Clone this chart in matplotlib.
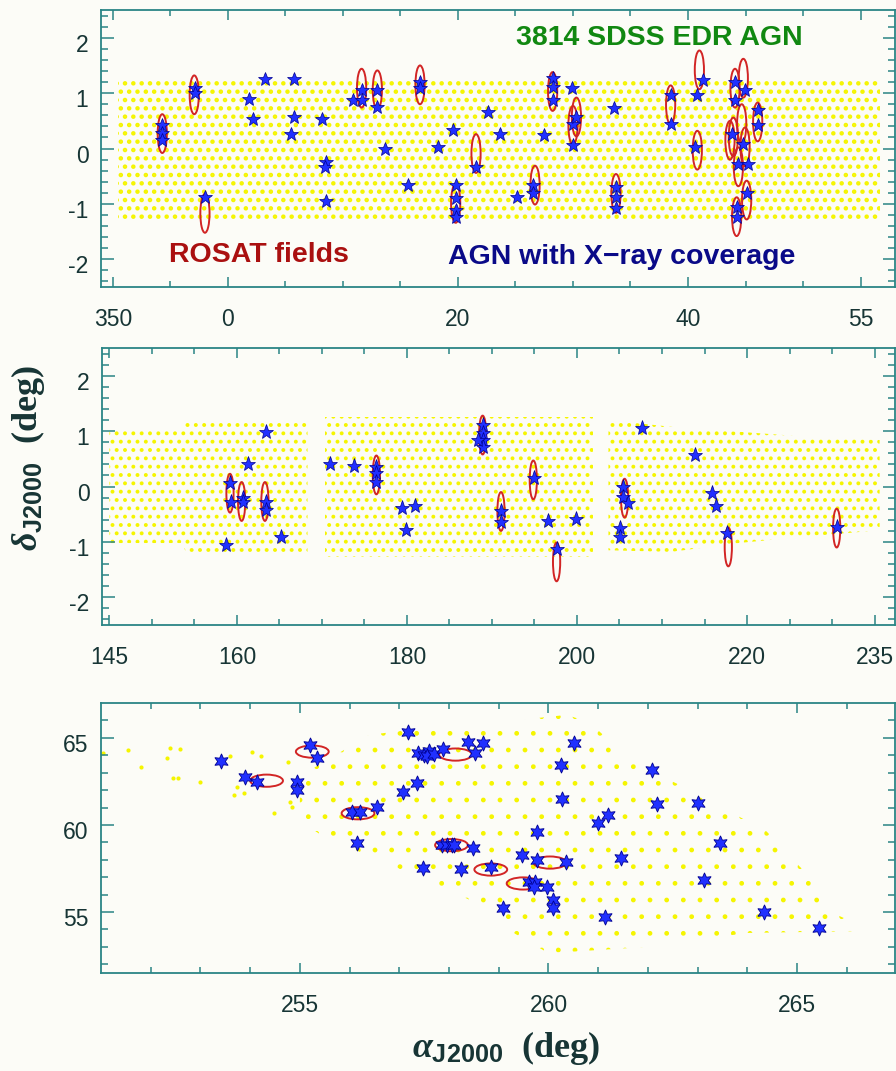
import matplotlib
matplotlib.use("Agg")
import matplotlib.pyplot as plt
from matplotlib.patches import Ellipse, Polygon
from matplotlib.transforms import ScaledTranslation

# ---- equatorial strip, RA 350..57 (negative = wrapped through 0) ----
strip1_ra = [-9.6, 56.7, 56.7, -9.6]
strip1_dec = [-1.27, -1.27, 1.27, 1.27]

rosat1_ra = [-5.71, -2.93, -2.0, 11.62, 12.99, 16.70, 21.57, 19.8, 28.23, 30.3,
             30.0, 26.70, 33.74, 38.49, 40.99, 40.81, 44.09, 44.81, 43.94, 44.67,
             44.38, 44.96, 45.1, 44.23, 46.06, 43.65]
rosat1_dec = [0.27, 0.97, -1.17, 1.09, 1.06, 1.15, -0.09, -0.99, 1.03, 0.57,
              0.42, -0.66, -0.81, 0.79, 1.42, -0.03, 1.09, 1.27, 0.21, 0.45,
              -0.33, 0.03, -0.93, -1.23, 0.48, 0.15]

agn1_ra = [-5.7, -5.7, -5.7, -2.87, -2.87, -2.0, 1.86, 3.22, 5.74, 2.14,
           5.74, 5.48, 8.2, 8.52, 8.43, 8.49, 10.9, 11.62, 11.62, 13.0,
           13.0, 13.65, 16.7, 16.7, 15.68, 18.29, 19.54, 19.8, 19.8, 19.8,
           19.8, 22.6, 21.57, 23.65, 25.1, 26.55, 26.55, 27.5, 28.23, 28.23,
           28.23, 29.9, 30.03, 30.03, 30.3, 33.6, 33.74, 33.74, 33.74, 38.49,
           38.49, 40.75, 41.28, 40.6, 44.09, 44.09, 44.96, 43.8, 44.8, 44.38,
           45.25, 45.1, 44.23, 44.23, 46.06, 46.06]
agn1_dec = [0.42, 0.28, 0.15, 1.09, 1.00, -0.87, 0.89, 1.25, 1.26, 0.53,
            0.57, 0.26, 0.53, -0.24, -0.33, -0.95, 0.88, 1.06, 0.88, 1.06,
            0.75, 0.0, 1.21, 1.09, -0.66, 0.03, 0.33, -0.66, -0.90, -1.11,
            -1.23, 0.66, -0.33, 0.26, -0.87, -0.66, -0.81, 0.24, 1.27, 1.12,
            0.88, 1.09, 0.45, 0.06, 0.57, 0.73, -0.69, -0.87, -1.08, 0.97,
            0.45, 0.97, 1.24, 0.03, 1.21, 0.88, 1.06, 0.27, 0.09, -0.27,
            -0.27, -0.81, -1.05, -1.23, 0.69, 0.42]

# ---- equatorial strip, RA 145..237 ----
strip2a_ra = [145.0, 153.5, 154.0, 168.3, 168.3, 154.0, 153.5, 145.0]
strip2a_dec = [-1.02, -1.02, -1.18, -1.18, 1.15, 1.15, 1.02, 1.02]
strip2b_ra = [170.4, 201.9, 201.9, 170.4]
strip2b_dec = [-1.27, -1.27, 1.26, 1.26]
strip2c_ra = [203.7, 211.0, 219.0, 227.0, 235.6, 235.6, 227.0, 219.0, 211.0, 203.7]
strip2c_dec = [-1.15, -1.18, -1.02, -0.9, -0.79, 0.84, 0.9, 0.99, 1.08, 1.2]

rosat2_ra = [159.18, 160.55, 163.29, 176.4, 188.9, 191.06, 194.86, 197.6,
             205.6, 217.8, 230.55]
rosat2_dec = [-0.12, -0.27, -0.27, 0.21, 0.93, -0.45, 0.12, -1.36,
              -0.21, -1.09, -0.75]

agn2_ra = [159.2, 159.3, 160.7, 160.7, 161.3, 163.4, 163.4, 163.4, 165.2, 158.7,
           170.9, 173.8, 176.4, 176.4, 176.4, 179.4, 180.9, 179.9, 188.9, 188.9,
           188.9, 188.9, 188.4, 191.1, 191.1, 194.9, 196.55, 197.6, 199.85, 205.1,
           205.1, 205.45, 205.45, 206.0, 207.6, 213.9, 215.85, 216.4, 217.7, 230.55]
agn2_dec = [0.06, -0.27, -0.21, -0.27, 0.40, 0.99, -0.27, -0.42, -0.91, -1.06,
            0.40, 0.38, 0.36, 0.24, 0.09, -0.39, -0.36, -0.79, 1.11, 0.96,
            0.84, 0.72, 0.84, -0.45, -0.64, 0.15, -0.62, -1.12, -0.59, -0.75,
            -0.91, 0.0, -0.18, -0.30, 1.05, 0.57, -0.12, -0.36, -0.83, -0.73]

# ---- northern patch, RA 251..267 ----
patch3_ra = [255.0, 256.4, 257.75, 258.08, 259.43, 260.37, 260.84, 261.7, 262.71,
             264.39, 264.92, 265.46, 265.72, 266.3, 266.2, 264.0, 262.0, 260.0,
             259.3, 258.8, 257.8, 256.5, 255.5, 255.0]
patch3_dec = [62.8, 65.17, 65.65, 66.03, 66.03, 66.32, 65.86, 63.56, 62.2,
              59.62, 57.99, 56.45, 54.94, 54.2, 53.9, 53.8, 53.0, 52.64,
              53.8, 55.2, 56.5, 58.1, 59.3, 60.2]
# sparse objects on the western tail of the patch
tail3_ra = [251.04, 251.55, 251.81, 252.38, 252.59, 252.33, 252.45, 252.55, 252.99,
            253.59, 253.73, 253.67, 253.87, 254.03, 254.21, 254.48, 254.76, 254.85,
            254.8]
tail3_dec = [64.14, 64.31, 63.35, 64.41, 64.35, 63.83, 62.68, 62.68, 62.49,
             63.93, 62.2, 61.72, 61.82, 64.21, 63.93, 60.67, 63.64, 61.05,
             61.34]

rosat3_ra = [255.25, 254.33, 256.17, 258.13, 258.05, 258.84, 259.49, 260.03]
rosat3_dec = [64.21, 62.54, 60.67, 64.04, 58.84, 57.44, 56.64, 57.84]

agn3_ra = [253.42, 253.89, 254.13, 255.2, 255.34, 254.95, 254.95, 256.04, 256.21,
           256.56, 256.15, 257.17, 257.38, 257.5, 257.6, 257.55, 257.7, 257.35,
           257.08, 257.87, 258.39, 258.52, 258.69, 257.85, 257.95, 258.05, 258.1,
           258.49, 257.48, 258.25, 258.84, 259.09, 260.52, 260.25, 260.27, 259.77,
           259.46, 259.76, 260.35, 259.61, 259.73, 259.7, 259.97, 260.1, 260.1,
           261.14, 260.99, 261.2, 261.45, 262.09, 262.19, 263.01, 263.46, 263.13,
           264.34, 265.45]
agn3_dec = [63.68, 62.78, 62.49, 64.6, 63.83, 62.49, 62.01, 60.76, 60.76,
            61.05, 58.98, 65.36, 64.14, 64.04, 64.24, 63.94, 64.09, 62.39,
            61.91, 64.34, 64.78, 64.12, 64.69, 58.84, 58.84, 58.84, 58.84,
            58.66, 57.51, 57.45, 57.6, 55.21, 64.73, 63.44, 61.47, 59.61,
            58.27, 57.99, 57.85, 56.74, 56.74, 56.45, 56.45, 55.69, 55.21,
            54.69, 60.13, 60.57, 58.08, 63.16, 61.2, 61.28, 58.94, 56.84,
            55.01, 54.06]

BG = "#fcfcf7"
TEAL = "#2a8585"
INK = "#173535"
YELLOW = "#f5f500"
RED = "#d22525"
STAR_FACE = "#2030ff"
STAR_EDGE = "#000090"

plt.rcParams["axes.unicode_minus"] = False
plt.rcParams["mathtext.fontset"] = "custom"
plt.rcParams["mathtext.it"] = "Liberation Serif:italic:bold"
plt.rcParams["mathtext.bf"] = "Liberation Sans:bold"
plt.rcParams["mathtext.rm"] = "Liberation Sans:bold"

fig = plt.figure(figsize=(8.96, 10.71), dpi=100, facecolor=BG)
ax1 = fig.add_axes([0.1127, 0.7320, 0.8862, 0.2586])
ax2 = fig.add_axes([0.1138, 0.4164, 0.8850, 0.2586])
ax3 = fig.add_axes([0.1127, 0.0915, 0.8862, 0.2521])


def footprint(ax, ra, dec, hatch, dot_lw):
    # survey coverage drawn as a dotted fill
    with plt.rc_context({"hatch.linewidth": dot_lw}):
        p = Polygon(list(zip(ra, dec)), closed=True, facecolor="none",
                    edgecolor=YELLOW, linewidth=0, hatch=hatch, zorder=1)
        ax.add_patch(p)


def fields(ax, ra, dec, w, h):
    for x, y in zip(ra, dec):
        ax.add_patch(Ellipse((x, y), w, h, fill=False, edgecolor=RED,
                             linewidth=1.4, zorder=3))


def style(ax, xlim, ylim, xt, xl, xminor, yt, yminor):
    ax.set_facecolor(BG)
    ax.set_xlim(*xlim)
    ax.set_ylim(*ylim)
    ax.set_xticks(xt, labels=xl)
    ax.set_xticks(xminor, minor=True)
    ax.set_yticks(yt, labels=[str(v) for v in yt])
    ax.set_yticks(yminor, minor=True)
    for s in ax.spines.values():
        s.set_color(TEAL)
        s.set_linewidth(1.3)
    ax.tick_params(which="both", direction="in", top=True, right=True,
                   color=TEAL, width=1.1, labelcolor=INK)
    ax.tick_params(axis="x", which="major", length=7, pad=15)
    ax.tick_params(axis="x", which="minor", length=4)
    ax.tick_params(axis="y", which="major", length=9, pad=9)
    ax.tick_params(axis="y", which="minor", length=5)
    shift = ScaledTranslation(0, -0.05, fig.dpi_scale_trans)
    for lab in ax.get_xticklabels() + ax.get_yticklabels():
        lab.set_family("Liberation Sans")
        lab.set_fontsize(16.5)
    for lab in ax.get_yticklabels():
        lab.set_transform(lab.get_transform() + shift)


# top panel
footprint(ax1, strip1_ra, strip1_dec, "..", 2.0)
fields(ax1, rosat1_ra, rosat1_dec, 0.8, 0.7)
ax1.plot(agn1_ra, agn1_dec, ls="none", marker="*", ms=10.5, mfc=STAR_FACE,
         mec=STAR_EDGE, mew=0.5, zorder=4)
style(ax1, (-11.04, 58.0), (-2.5, 2.5), [-10, 0, 20, 40, 55],
      ["350", "0", "20", "40", "55"], list(range(-10, 56, 5)),
      [-2, -1, 0, 1, 2], [v / 5 for v in range(-12, 13)])
bold = dict(family="Liberation Sans", fontweight="bold", fontsize=20.5,
            transform=ax1.transAxes, ha="center", va="center", zorder=5)
ax1.text(0.703, 0.899, "3814 SDSS EDR AGN", color="#118811", **bold)
ax1.text(0.199, 0.116, "ROSAT fields", color="#aa1010", **bold)
ax1.text(0.656, 0.108, "AGN with X\u2212ray coverage", color="#0a0a88", **bold)

# middle panel
for ra, dec in [(strip2a_ra, strip2a_dec), (strip2b_ra, strip2b_dec),
                (strip2c_ra, strip2c_dec)]:
    footprint(ax2, ra, dec, "..", 1.6)
fields(ax2, rosat2_ra, rosat2_dec, 0.85, 0.7)
ax2.plot(agn2_ra, agn2_dec, ls="none", marker="*", ms=11, mfc=STAR_FACE,
         mec=STAR_EDGE, mew=0.5, zorder=4)
style(ax2, (144.12, 237.4), (-2.5, 2.5), [145, 160, 180, 200, 220, 235],
      ["145", "160", "180", "200", "220", "235"], list(range(145, 236, 5)),
      [-2, -1, 0, 1, 2], [v / 5 for v in range(-12, 13)])

# bottom panel
footprint(ax3, patch3_ra, patch3_dec, ".", 1.0)
ax3.scatter(tail3_ra, tail3_dec, s=9, color=YELLOW, linewidths=0, zorder=1)
fields(ax3, rosat3_ra, rosat3_dec, 0.66, 0.7)
ax3.plot(agn3_ra, agn3_dec, ls="none", marker=(6, 1, 0), ms=11, mfc=STAR_FACE,
         mec=STAR_EDGE, mew=0.6, zorder=4)
style(ax3, (251.0, 266.97), (51.5, 67.0), [255, 260, 265],
      ["255", "260", "265"], list(range(252, 267)),
      [55, 60, 65], list(range(52, 67)))

label = dict(family="Liberation Serif", fontweight="bold", fontsize=26,
             color=INK, ha="center", va="center")
fig.text(0.031, 1 - 458 / 1071, r"$\delta_{\mathbf{J2000}}$  (deg)",
         rotation=90, **label)
fig.text(506 / 896, 1 - 1048 / 1071, r"$\alpha_{\mathbf{J2000}}$  (deg)", **label)

fig.savefig("out.png", dpi=100, facecolor=BG)
